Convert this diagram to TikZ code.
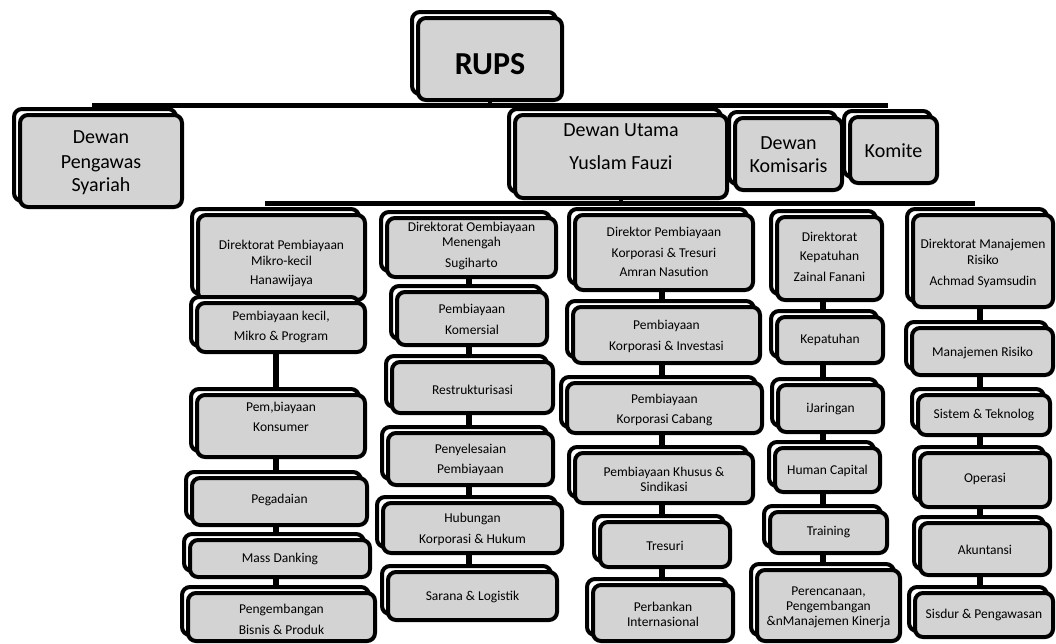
\documentclass[tikz,border=0pt]{standalone}
\usepackage{fontspec}
\setmainfont{Carlito}
\usetikzlibrary{fit}
\pgfdeclarelayer{background}
\pgfsetlayers{background,main}
\definecolor{boxgray}{RGB}{211,211,211}
\tikzset{
  backbox/.style={draw=black, fill=white, line width=4pt, rounded corners=8pt},
  frontbox/.style={draw=black, fill=boxgray, line width=4pt, rounded corners=8pt, inner sep=0pt},
  txs/.style={align=center, inner sep=0pt, font=\fontsize{13.5}{15}\selectfont},
  txb/.style={align=center, inner sep=0pt, font=\fontsize{20}{23}\selectfont},
  txr/.style={align=center, inner sep=0pt, font=\fontsize{32}{36}\selectfont\bfseries},
  conn/.style={draw=black, line width=6pt},
  bus/.style={draw=black, line width=4.5pt}
}
% #1 name, #2 x1, #3 y1, #4 x2, #5 y2, #6 text centre y, #7 text style, #8 text
\newcommand{\obx}[8]{%
  \path[backbox] (#2-6,#3-6) rectangle (#4-6,#5-6);
  \node[frontbox, fit={(#2,#3) (#4,#5)}] (#1) {};
  \node[#7] (#1t) at ({(#2+#4)/2},#6) {#8};
}
\begin{document}
\begin{tikzpicture}[x=1pt,y=-1pt]
\useasboundingbox (0,0) rectangle (1056,643);
% top level
\obx{rups}{418}{18}{562}{100}{64}{txr}{RUPS}
\obx{dps}{20}{115}{182}{207}{163}{txb}{Dewan\\[2pt]Pengawas\\Syariah}
\obx{du}{515}{115}{727}{198}{146.5}{txb}{Dewan Utama\\[10pt]Yuslam Fauzi}
\obx{dk}{735}{118}{842}{190}{154.5}{txb}{Dewan\\Komisaris}
\obx{km}{850}{117}{937}{183}{151}{txb}{Komite}
% directors
\obx{d1}{198}{215}{365}{300}{263.5}{txs}{Direktorat Pembiayaan\\[1pt]Mikro-kecil\\[4pt]Hanawijaya}
\obx{d2}{387}{218}{556}{277}{245.5}{txs}{Direktorat Oembiayaan\\Menengah\\[6pt]Sugiharto}
\obx{d3}{575}{215}{753}{290}{252}{txs}{Direktor Pembiayaan\\[6pt]Korporasi \& Tresuri\\[4pt]Amran Nasution}
\obx{d4}{777}{217}{882}{300}{257}{txs}{Direktorat\\[4pt]Kepatuhan\\[6pt]Zainal Fanani}
\obx{d5}{913}{215}{1053}{307}{263.5}{txs}{Direktorat Manajemen\\[1pt]Risiko\\[6pt]Achmad Syamsudin}
% column 1
\obx{a1}{197}{303}{365}{352}{327}{txs}{Pembiayaan kecil,\\[5pt]Mikro \& Program}
\obx{a2}{197}{395}{365}{457}{417}{txs}{Pem,biayaan\\[5pt]Konsumer}
\obx{a3}{192}{478}{367}{525}{500}{txs}{Pegadaian}
\obx{a4}{190}{540}{370}{577}{559}{txs}{Mass Danking}
\obx{a5}{188}{593}{375}{641}{619.5}{txs}{Pengembangan\\[6pt]Bisnis \& Produk}
% column 2
\obx{b1}{397}{292}{547}{345}{319.5}{txs}{Pembiayaan\\[6pt]Komersial}
\obx{b2}{392}{362}{553}{413}{390}{txs}{Restrukturisasi}
\obx{b3}{388}{433}{553}{485}{460}{txs}{Penyelesaian\\[5pt]Pembiayaan}
\obx{b4}{383}{503}{562}{553}{529.5}{txs}{Hubungan\\[6pt]Korporasi \& Hukum}
\obx{b5}{388}{572}{557}{620}{597}{txs}{Sarana \& Logistik}
% column 3
\obx{c1}{573}{307}{760}{363}{336.5}{txs}{Pembiayaan\\[6pt]Korporasi \& Investasi}
\obx{c2}{567}{383}{762}{433}{410}{txs}{Pembiayaan\\[5pt]Korporasi Cabang}
\obx{c3}{575}{453}{753}{503}{479.5}{txs}{Pembiayaan Khusus \&\\Sindikasi}
\obx{c4}{600}{522}{730}{567}{546}{txs}{Tresuri}
\obx{c5}{593}{585}{733}{641}{614.5}{txs}{Perbankan\\Internasional}
% column 4
\obx{e1}{777}{317}{883}{363}{340}{txs}{Kepatuhan}
\obx{e2}{778}{385}{883}{432}{409}{txs}{iJaringan}
\obx{e3}{775}{448}{880}{492}{471}{txs}{Human Capital}
\obx{e4}{770}{512}{887}{553}{532}{txs}{Training}
\obx{e5}{757}{570}{900}{641}{607.5}{txs}{Perencanaan,\\Pengembangan\\\&nManajemen Kinerja}
% column 5
\obx{f1}{912}{328}{1053}{375}{353}{txs}{Manajemen Risiko}
\obx{f2}{918}{395}{1050}{435}{415}{txs}{Sistem \& Teknolog}
\obx{f3}{920}{453}{1050}{507}{479}{txs}{Operasi}
\obx{f4}{920}{523}{1050}{575}{550}{txs}{Akuntansi}
\obx{f5}{915}{593}{1053}{637}{615}{txs}{Sisdur \& Pengawasan}
% connectors
\coordinate (busA1) at (92,105.5);
\coordinate (busA2) at (888,105.5);
\coordinate (busB1) at (265,203.5);
\coordinate (busB2) at (975,203.5);
\coordinate (colA) at (276,0);
\coordinate (colB) at (469,0);
\coordinate (colC) at (662,0);
\coordinate (colD) at (823,0);
\coordinate (colE) at (980,0);
\begin{pgfonlayer}{background}
\draw[bus] (busA1) -- (busA2);
\draw[bus] (rups.center) -- (rups.center |- busA1);
\draw[bus] (busB1) -- (busB2);
\draw[bus] (du.center) -- (du.center |- busB1);
\foreach \p/\q in {d1/a1,a1/a2,a2/a3,a3/a4,a4/a5}
  \draw[conn] (\p.center -| colA) -- (\q.center -| colA);
\foreach \p/\q in {d2/b1,b1/b2,b2/b3,b3/b4,b4/b5}
  \draw[conn] (\p.center -| colB) -- (\q.center -| colB);
\foreach \p/\q in {d3/c1,c1/c2,c2/c3,c3/c4,c4/c5}
  \draw[conn] (\p.center -| colC) -- (\q.center -| colC);
\foreach \p/\q in {d4/e1,e1/e2,e2/e3,e3/e4,e4/e5}
  \draw[conn] (\p.center -| colD) -- (\q.center -| colD);
\foreach \p/\q in {d5/f1,f1/f2,f2/f3,f3/f4,f4/f5}
  \draw[conn] (\p.center -| colE) -- (\q.center -| colE);
\end{pgfonlayer}
\end{tikzpicture}
\end{document}
